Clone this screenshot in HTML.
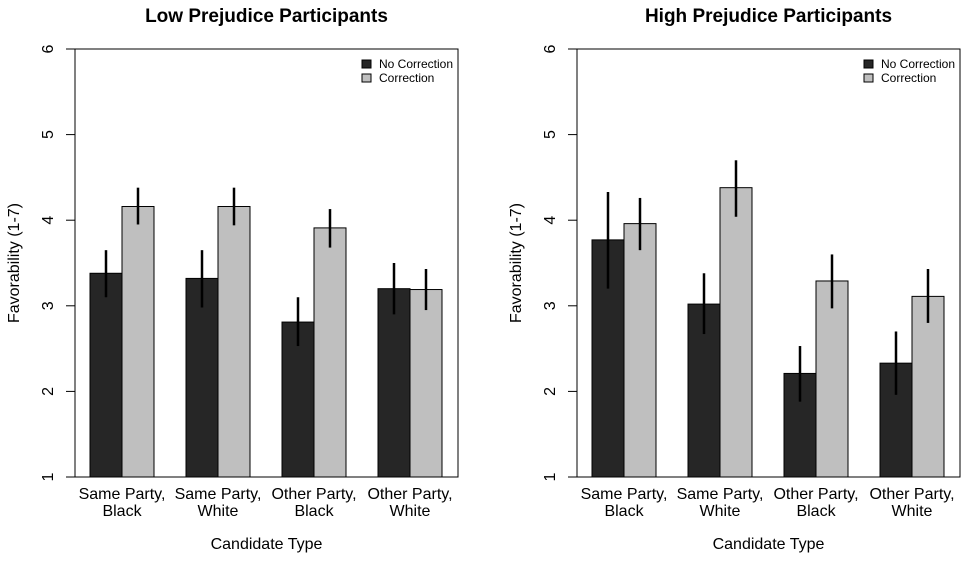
<!DOCTYPE html>
<html><head><meta charset="utf-8"><style>body{margin:0;background:#fff}svg{font-family:"Liberation Sans",Arial,sans-serif}</style></head>
<body>
<svg id="c" width="961" height="556" xmlns="http://www.w3.org/2000/svg"></svg>
<script>
const categories=[["Same Party,","Black"],["Same Party,","White"],["Other Party,","Black"],["Other Party,","White"]];
const titles=["Low Prejudice Participants","High Prejudice Participants"];
const lowNoCorr=[3.38,3.32,2.81,3.20];
const lowNoCorrLo=[3.10,2.98,2.53,2.90];
const lowNoCorrHi=[3.65,3.65,3.10,3.50];
const lowCorr=[4.16,4.16,3.91,3.19];
const lowCorrLo=[3.95,3.94,3.68,2.95];
const lowCorrHi=[4.38,4.38,4.13,3.43];
const highNoCorr=[3.77,3.02,2.21,2.33];
const highNoCorrLo=[3.20,2.67,1.88,1.96];
const highNoCorrHi=[4.33,3.38,2.53,2.70];
const highCorr=[3.96,4.38,3.29,3.11];
const highCorrLo=[3.65,4.04,2.97,2.80];
const highCorrHi=[4.26,4.70,3.60,3.43];
const yTicks=[1,2,3,4,5,6];
const svg=document.getElementById('c');const NS='http://www.w3.org/2000/svg';
function mk(t,a,p,txt){const e=document.createElementNS(NS,t);for(const k in a)e.setAttribute(k,a[k]);if(txt!==undefined)e.textContent=txt;(p||svg).appendChild(e);return e;}
const panels=[{x0:75,x1:458,nc:lowNoCorr,ncl:lowNoCorrLo,nch:lowNoCorrHi,c:lowCorr,cl:lowCorrLo,ch:lowCorrHi},
{x0:577,x1:960,nc:highNoCorr,ncl:highNoCorrLo,nch:highNoCorrHi,c:highCorr,cl:highCorrLo,ch:highCorrHi}];
const yTop=49,yBot=477;
function Y(v){return yBot-(v-1)/5*(yBot-yTop);}
panels.forEach((p,pi)=>{
const g=mk('g',{});
const t=mk('text',{x:(p.x0+p.x1)/2,y:22,'text-anchor':'middle','font-size':19,'font-weight':'bold'},g,titles[pi]);
const xl=(v)=>p.x0+15+v*96;
categories.forEach((cat,i)=>{
 const bx=xl(i);
 const b1=mk('rect',{x:bx,y:Y(p.nc[i]),width:32,height:yBot-Y(p.nc[i]),fill:'#262626',stroke:'#000','stroke-width':1},g);
 const b2=mk('rect',{x:bx+32,y:Y(p.c[i]),width:32,height:yBot-Y(p.c[i]),fill:'#bfbfbf',stroke:'#000','stroke-width':1},g);
 const e1=mk('line',{x1:bx+16,x2:bx+16,y1:Y(p.ncl[i]),y2:Y(p.nch[i]),stroke:'#000','stroke-width':2.5},g);
 const e2=mk('line',{x1:bx+48,x2:bx+48,y1:Y(p.cl[i]),y2:Y(p.ch[i]),stroke:'#000','stroke-width':2.5},g);
 const l=mk('text',{x:bx+32,y:499,'text-anchor':'middle','font-size':16},g);
 mk('tspan',{x:bx+32,dy:0},l,cat[0]);mk('tspan',{x:bx+32,dy:17},l,cat[1]);
});
const box=mk('rect',{x:p.x0,y:yTop,width:p.x1-p.x0,height:yBot-yTop,fill:'none',stroke:'#000','stroke-width':1},g);
yTicks.forEach(v=>{mk('line',{x1:p.x0-9,x2:p.x0,y1:Y(v),y2:Y(v),stroke:'#000'},g);
 const tl=mk('text',{x:0,y:0,'text-anchor':'middle','font-size':16,transform:`translate(${p.x0-22},${Y(v)}) rotate(-90)`},g,String(v));});
const yt=mk('text',{x:0,y:0,'text-anchor':'middle','font-size':16,transform:`translate(${p.x0-56},${(yTop+yBot)/2}) rotate(-90)`},g,'Favorability (1-7)');
const xt=mk('text',{x:(p.x0+p.x1)/2,y:549,'text-anchor':'middle','font-size':16},g,'Candidate Type');
const lg=mk('g',{},g);
const lx=p.x1-96;
mk('rect',{x:lx,y:60,width:9,height:8,fill:'#262626',stroke:'#000'},lg);
mk('text',{x:lx+17,y:68,'font-size':12},lg,'No Correction');
mk('rect',{x:lx,y:74,width:9,height:8,fill:'#bfbfbf',stroke:'#000'},lg);
mk('text',{x:lx+17,y:82,'font-size':12},lg,'Correction');
});
</script>
</body></html>
